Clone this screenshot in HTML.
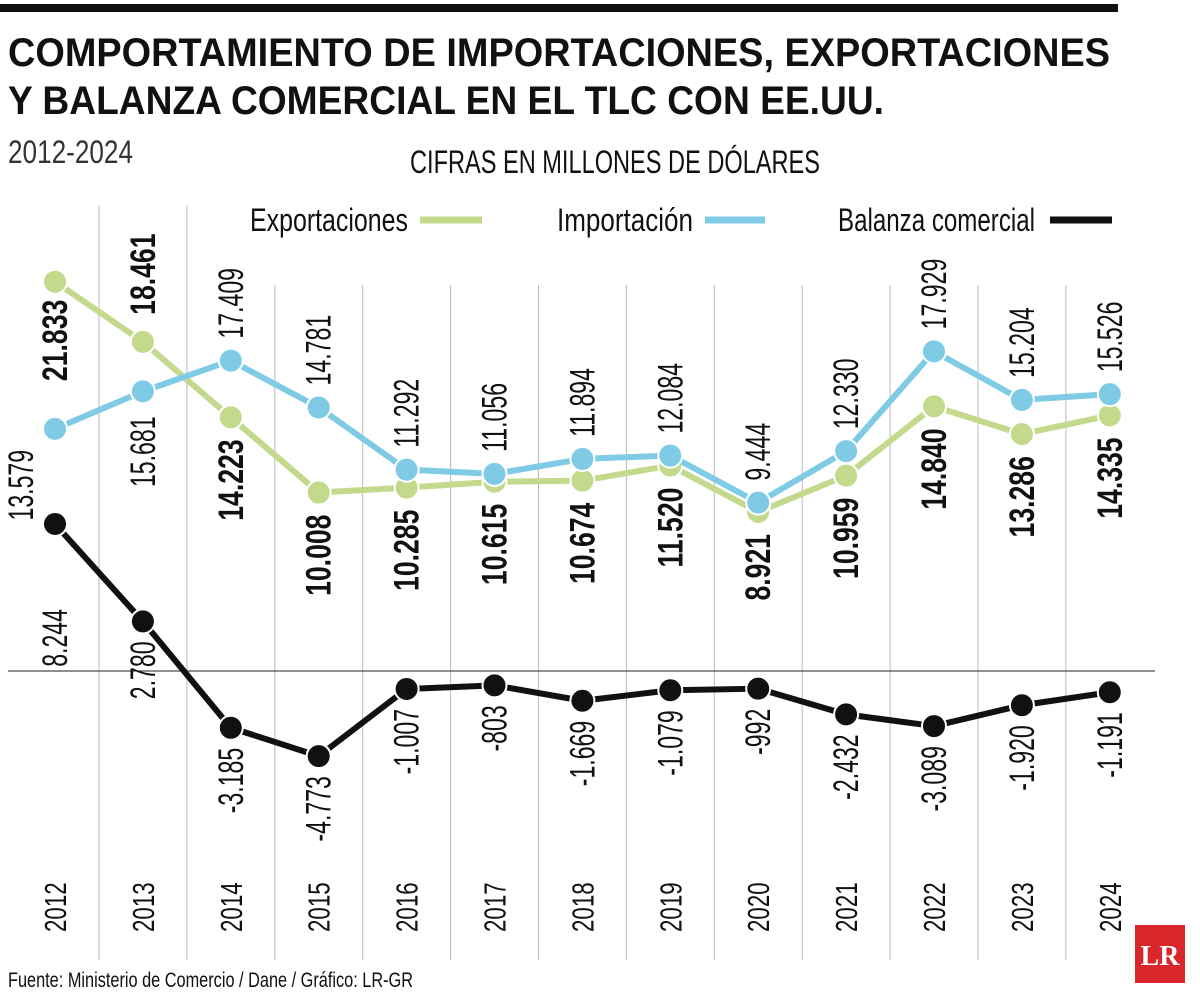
<!DOCTYPE html>
<html><head><meta charset="utf-8"><style>
html,body{margin:0;padding:0;background:#fff}
svg{display:block;font-family:"Liberation Sans",sans-serif}
</style></head><body>
<svg id="chart" width="1200" height="1001" viewBox="0 0 1200 1001">
<rect x="0" y="4" width="1118" height="8" fill="#111"/>
<text x="8" y="66" font-weight="bold" font-size="40" textLength="1102" lengthAdjust="spacingAndGlyphs" fill="#111">COMPORTAMIENTO DE IMPORTACIONES, EXPORTACIONES</text>
<text x="8" y="114" font-weight="bold" font-size="40" textLength="876" lengthAdjust="spacingAndGlyphs" fill="#111">Y BALANZA COMERCIAL EN EL TLC CON EE.UU.</text>
<text x="8" y="163" font-size="32" textLength="125" lengthAdjust="spacingAndGlyphs" fill="#333">2012-2024</text>
<text x="410" y="173" font-size="32" textLength="410" lengthAdjust="spacingAndGlyphs" fill="#111">CIFRAS EN MILLONES DE DÓLARES</text>
<g id="grid"></g>
<line x1="8" y1="671" x2="1155" y2="671" stroke="#222" stroke-width="1"/>
<g>
<text x="250" y="231" font-size="32" textLength="158" lengthAdjust="spacingAndGlyphs" fill="#111">Exportaciones</text>
<line x1="420" y1="220" x2="482" y2="220" stroke="#c3d98c" stroke-width="7"/>
<text x="557" y="231" font-size="32" textLength="136" lengthAdjust="spacingAndGlyphs" fill="#111">Importación</text>
<line x1="705" y1="220" x2="765" y2="220" stroke="#7fcbe5" stroke-width="7"/>
<text x="838" y="231" font-size="32" textLength="197" lengthAdjust="spacingAndGlyphs" fill="#111">Balanza comercial</text>
<line x1="1050" y1="220" x2="1112" y2="220" stroke="#111" stroke-width="7"/>
</g>
<g id="series"></g>
<g id="labels"></g>
<text x="8" y="987" font-size="21" textLength="405" lengthAdjust="spacingAndGlyphs" fill="#111">Fuente: Ministerio de Comercio / Dane / Gráfico: LR-GR</text>
<g>
<rect x="1135" y="925" width="50" height="58" fill="#d9262a"/>
<text x="1160" y="965" font-family="Liberation Serif" font-weight="bold" font-size="28" fill="#fff" text-anchor="middle">LR</text>
</g>
</svg>
<script>
const years=['2012','2013','2014','2015','2016','2017','2018','2019','2020','2021','2022','2023','2024'];
const exportsVals=[21833,18461,14223,10008,10285,10615,10674,11520,8921,10959,14840,13286,14335];
const importsVals=[13579,15681,17409,14781,11292,11056,11894,12084,9444,12330,17929,15204,15526];
const balanceVals=[8244,2780,-3185,-4773,-1007,-803,-1669,-1079,-992,-2432,-3089,-1920,-1191];
const NS='http://www.w3.org/2000/svg';
const x=i=>55+i*87.9;
const y=v=>671-v*0.01783;
const fmt=v=>{const s=Math.abs(v).toString();const r=s.length>3?s.slice(0,-3)+'.'+s.slice(-3):s;return (v<0?'-':'')+r;};
function mk(tag,attrs,parent){const e=document.createElementNS(NS,tag);for(const k in attrs)e.setAttribute(k,attrs[k]);parent.appendChild(e);return e;}
const grid=document.getElementById('grid'),series=document.getElementById('series'),labels=document.getElementById('labels');
for(let i=0;i<years.length;i++){
  if(i<years.length-1){const gx=x(i)+44;const l=mk('line',{x1:gx,y1:gx<240?205:285,x2:gx,y2:960,stroke:'#bbb','stroke-width':1},grid);
  
  }
  const t=mk('text',{transform:`translate(${x(i)+11},932) rotate(-90) scale(0.72,1)`,'font-size':31,fill:'#111'},labels);
  t.textContent=years[i];
  
  
}
function line(vals,color,name){
  const p=mk('polyline',{points:vals.map((v,i)=>x(i)+','+y(v)).join(' '),fill:'none',stroke:color,'stroke-width':6,'stroke-linejoin':'round'},series);
  
  
  vals.forEach((v,i)=>{const c=mk('circle',{cx:x(i),cy:y(v),r:12,fill:color,stroke:'#fff','stroke-width':2},series);
  
  });
}
line(exportsVals,'#c3d98c','exports');
line(importsVals,'#7fcbe5','imports');
line(balanceVals,'#111','balance');
function label(cx,yy,anchor,txt,bold,name){
  const t=mk('text',{transform:`translate(${cx+12},${yy}) rotate(-90) scale(${bold?0.76:0.66},1)`,'font-size':35,'text-anchor':anchor,fill:'#111','font-weight':bold?'bold':'normal'},labels);
  t.textContent=txt;
  
  
}
for(let i=0;i<years.length;i++){
  const cx=x(i);
  if(i===0) label(cx,y(exportsVals[i])+18,'end',fmt(exportsVals[i]),true,'exports-value');
  else if(i===1) label(cx,y(exportsVals[i])-27,'start',fmt(exportsVals[i]),true,'exports-value');
  else label(cx,Math.max(y(exportsVals[i]),y(importsVals[i]))+22,'end',fmt(exportsVals[i]),true,'exports-value');
  if(i===0) label(cx-34,y(importsVals[i])+21,'end',fmt(importsVals[i]),false,'imports-value');
  else if(i===1) label(cx,y(importsVals[i])+25,'end',fmt(importsVals[i]),false,'imports-value');
  else label(cx,Math.min(y(importsVals[i]),y(exportsVals[i]))-22,'start',fmt(importsVals[i]),false,'imports-value');
  if(i===0) label(cx,y(balanceVals[i])+85,'end',fmt(balanceVals[i]),false,'balance-value');
  else label(cx,y(balanceVals[i])+20,'end',fmt(balanceVals[i]),false,'balance-value');
}
</script>
</body></html>
